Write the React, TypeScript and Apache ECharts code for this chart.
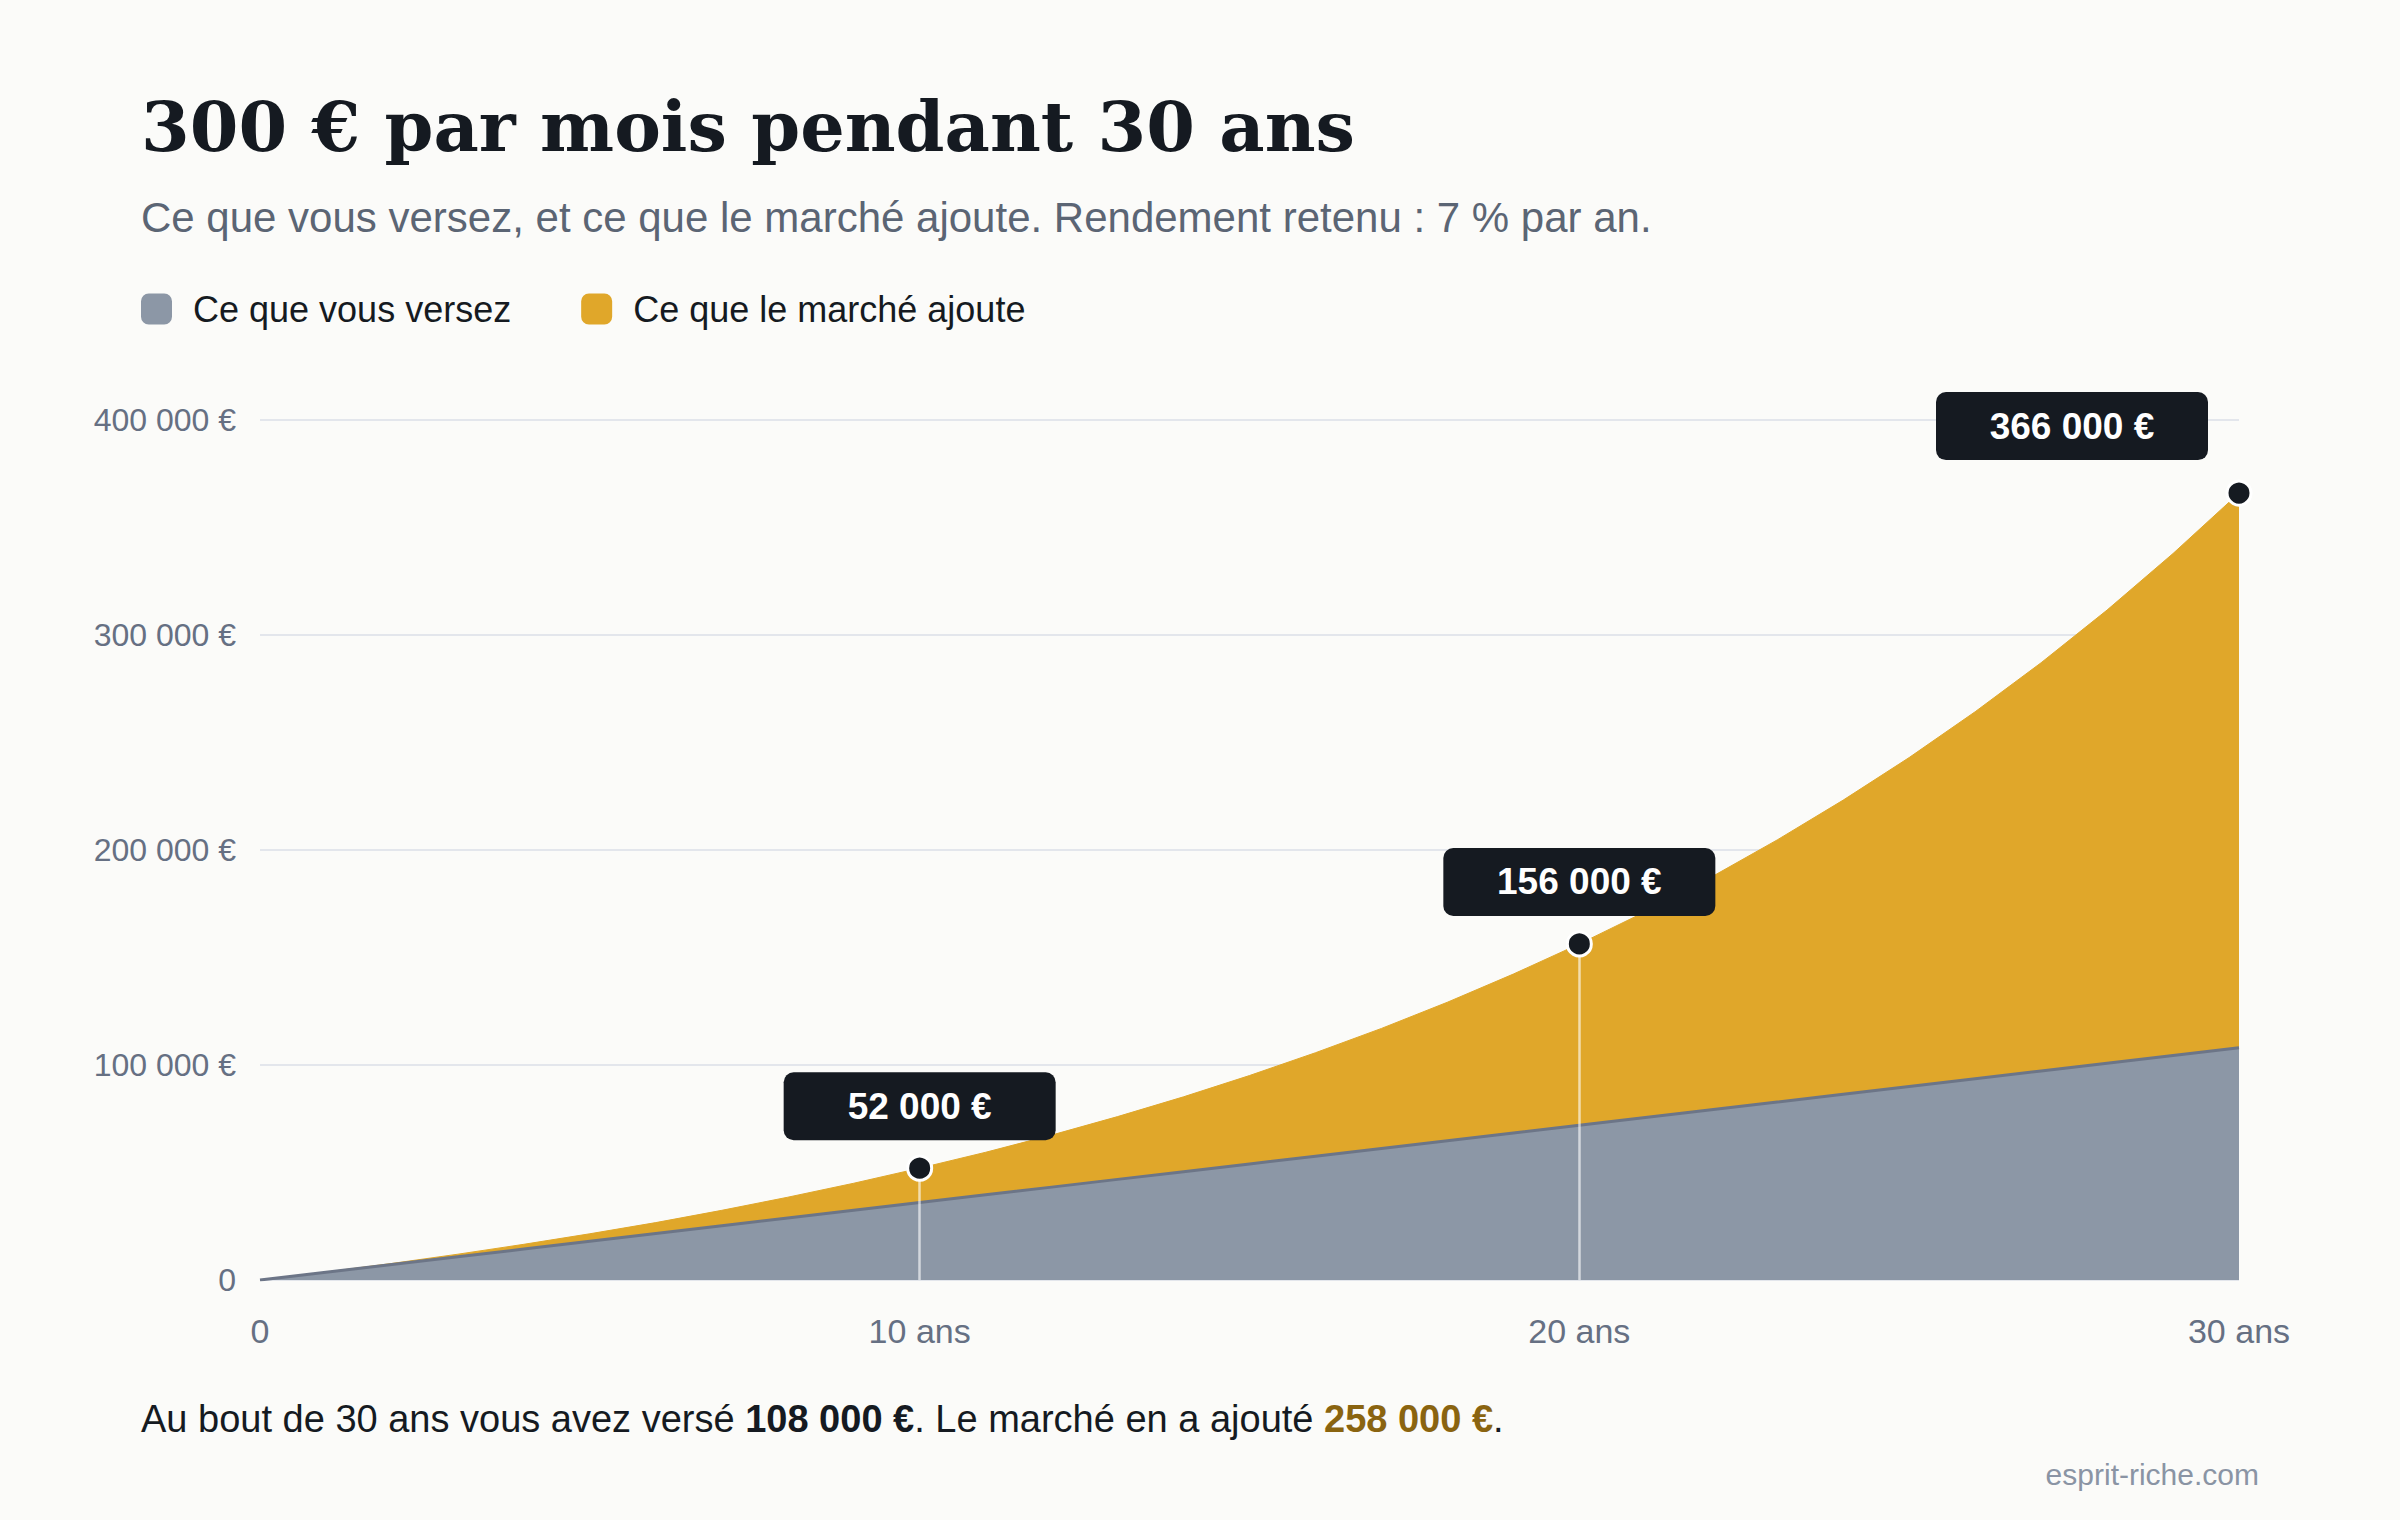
import { useEffect, useRef } from 'react';
import * as echarts from 'echarts';

const years = [0, 1, 2, 3, 4, 5, 6, 7, 8, 9, 10, 11, 12, 13, 14, 15, 16, 17, 18, 19, 20, 21, 22, 23, 24, 25, 26, 27, 28, 29, 30];
const paid = [0, 3600, 7200, 10800, 14400, 18000, 21600, 25200, 28800, 32400, 36000, 39600, 43200, 46800, 50400, 54000, 57600, 61200, 64800, 68400, 72000, 75600, 79200, 82800, 86400, 90000, 93600, 97200, 100800, 104400, 108000];
const gains = [0, 100, 500, 1200, 2200, 3500, 5100, 7200, 9700, 12600, 16000, 19800, 24200, 29200, 34800, 41100, 48100, 55800, 64400, 73900, 84300, 95700, 108200, 121900, 136800, 153000, 170700, 189900, 210800, 233500, 258000];

const milestoneYears = [10, 20, 30];
const milestoneLabels = ['52 000 €', '156 000 €', '366 000 €'];

const xTickLabels = ['0', '10 ans', '20 ans', '30 ans'];
const yTickLabels = ['0', '100 000 €', '200 000 €', '300 000 €', '400 000 €'];

const seriesNames = ['Ce que vous versez', 'Ce que le marché ajoute'];

const TITLE = '300 € par mois pendant 30 ans';
const SUBTITLE = 'Ce que vous versez, et ce que le marché ajoute. Rendement retenu : 7 % par an.';
const NOTE_PAID = '108 000 €';
const NOTE_GAINS = '258 000 €';
const SOURCE = 'esprit-riche.com';

const SANS = '"Liberation Sans", Arial, Helvetica, sans-serif';
const SERIF = '"DejaVu Serif", Georgia, serif';
const GRAY = '#8c97a6';
const GOLD = '#e0a72a';
const INK = '#151a21';
const MUTED = '#667083';

export default function App() {
  const chartRef = useRef<HTMLDivElement>(null);

  useEffect(() => {
    document.body.style.margin = '0';
    if (!chartRef.current) return;
    const chart = echarts.init(chartRef.current, null, { renderer: 'svg' });

    const totalAt = (y: number) => paid[years.indexOf(y)] + gains[years.indexOf(y)];

    const option: echarts.EChartsOption = {
      animation: false,
      backgroundColor: '#fbfbf9',
      textStyle: { fontFamily: SANS },
      grid: { left: 260, right: 161, top: 420, bottom: 240 },
      legend: {
        left: 141,
        top: 291,
        padding: 0,
        itemWidth: 31,
        itemHeight: 31,
        itemGap: 70,
        icon: 'roundRect',
        selectedMode: false,
        textStyle: { fontSize: 36, color: INK, fontFamily: SANS, padding: [0, 0, 0, 16] },
        data: [
          { name: seriesNames[0], itemStyle: { color: GRAY, borderWidth: 0 } },
          { name: seriesNames[1], itemStyle: { color: GOLD, borderWidth: 0 } },
        ],
      },
      xAxis: {
        type: 'category',
        boundaryGap: false,
        data: years.map(String),
        axisLine: { show: false },
        axisTick: { show: false },
        splitLine: { show: false },
        axisLabel: {
          color: MUTED,
          fontSize: 34,
          fontFamily: SANS,
          margin: 34,
          interval: (index: number) => index % 10 === 0,
          formatter: (_v: string, index: number) => xTickLabels[index / 10] ?? '',
        },
      },
      yAxis: {
        type: 'value',
        min: 0,
        max: 400000,
        interval: 100000,
        axisLine: { show: false },
        axisTick: { show: false },
        splitLine: { lineStyle: { color: '#e3e6ec', width: 2 } },
        axisLabel: {
          color: MUTED,
          fontSize: 32,
          fontFamily: SANS,
          margin: 24,
          formatter: (v: number) => yTickLabels[v / 100000] ?? '',
        },
      },
      series: [
        {
          name: seriesNames[0],
          type: 'line',
          stack: 'total',
          z: 3,
          showSymbol: false,
          data: paid,
          itemStyle: { color: GRAY },
          lineStyle: { color: '#6c7587', width: 3 },
          areaStyle: { color: GRAY, opacity: 1 },
        },
        {
          name: seriesNames[1],
          type: 'line',
          stack: 'total',
          z: 2,
          showSymbol: false,
          data: gains,
          itemStyle: { color: GOLD },
          lineStyle: { width: 1, color: GOLD },
          areaStyle: { color: GOLD, opacity: 1 },
        },
        {
          name: 'jalons',
          type: 'scatter',
          z: 10,
          clip: false,
          symbolSize: 24,
          itemStyle: { color: INK, borderColor: '#ffffff', borderWidth: 3, opacity: 1 },
          data: milestoneYears.map((y, i) => ({
            value: [years.indexOf(y), totalAt(y)],
            label: {
              offset: i === milestoneYears.length - 1 ? [-167, -67] : [0, -62],
            },
          })),
          label: {
            show: true,
            position: 'inside',
            formatter: (p: any) => milestoneLabels[p.dataIndex],
            backgroundColor: INK,
            borderRadius: 10,
            color: '#ffffff',
            fontFamily: SANS,
            fontSize: 37,
            fontWeight: 'bold',
            width: 272,
            height: 68,
            lineHeight: 68,
            align: 'center',
            verticalAlign: 'middle',
            padding: 0,
          },
          markLine: {
            silent: true,
            z: 4,
            symbol: ['none', 'none'],
            label: { show: false },
            lineStyle: { color: 'rgba(255,255,255,0.62)', width: 2.5, type: 'solid' },
            data: milestoneYears
              .filter((y) => y < 30)
              .map((y) => [{ coord: [years.indexOf(y), totalAt(y)] }, { coord: [years.indexOf(y), 0] }]) as any,
          },
        },
      ],
      graphic: [
        {
          type: 'text',
          x: 141,
          y: 126,
          style: {
            text: TITLE,
            fontFamily: SERIF,
            fontWeight: 'bold',
            fontSize: 70,
            fill: INK,
            align: 'left',
            verticalAlign: 'middle',
          },
        },
        {
          type: 'text',
          x: 141,
          y: 217,
          style: {
            text: SUBTITLE,
            fontFamily: SANS,
            fontSize: 42,
            fill: '#5b6574',
            align: 'left',
            verticalAlign: 'middle',
          },
        },
        {
          type: 'text',
          x: 141,
          y: 1419,
          style: {
            text: `{n|Au bout de 30 ans vous avez versé }{b|${NOTE_PAID}}{n|. Le marché en a ajouté }{g|${NOTE_GAINS}}{n|.}`,
            align: 'left',
            verticalAlign: 'middle',
            rich: {
              n: { fontFamily: SANS, fontSize: 38, fill: INK },
              b: { fontFamily: SANS, fontSize: 38, fontWeight: 'bold', fill: INK },
              g: { fontFamily: SANS, fontSize: 38, fontWeight: 'bold', fill: '#8a6410' },
            },
          } as any,
        },
        {
          type: 'text',
          x: 2259,
          y: 1474,
          style: {
            text: SOURCE,
            fontFamily: SANS,
            fontSize: 30,
            fill: '#8a94a4',
            align: 'right',
            verticalAlign: 'middle',
          },
        },
      ],
    };

    chart.setOption(option);

    return () => {
      chart.dispose();
    };
  }, []);

  return (
    <div style={{ position: 'absolute', left: 0, top: 0, width: 2400, height: 1520, background: '#fbfbf9' }}>
      <div ref={chartRef} style={{ width: 2400, height: 1520 }} />
    </div>
  );
}
